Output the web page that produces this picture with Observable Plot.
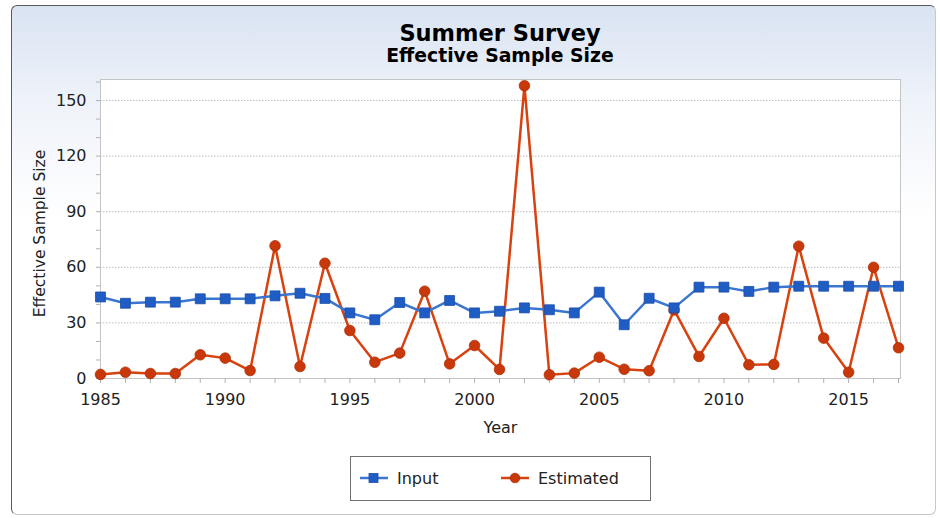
<!DOCTYPE html>
<html>
<head>
<meta charset="utf-8">
<script src="https://cdn.jsdelivr.net/npm/d3@7"></script>
<script src="https://cdn.jsdelivr.net/npm/@observablehq/plot@0.6"></script>
<style>
  html, body { margin: 0; padding: 0; background: #ffffff; }
  #chart { position: relative; width: 940px; height: 518px; overflow: hidden; font-family: "DejaVu Sans", sans-serif; }
  #bg { position: absolute; left: 11px; top: 5px; width: 923px; height: 508px;
        border-top: 1px solid #5a5a5a; border-left: 1px solid #5a5a5a;
        border-right: 1px solid #c8c8c8; border-bottom: 1px solid #c8c8c8;
        border-radius: 6px;
        background: linear-gradient(to bottom, #d9e3f2 0%, #eef2f9 18%, #ffffff 42%, #ffffff 100%); }
  .t { position: absolute; left: 300px; width: 400px; text-align: center; color: #000; font-weight: bold; line-height: 1.164; white-space: nowrap; }
  #title { top: 19.8px; font-size: 22.5px; }
  #subtitle { top: 45.3px; font-size: 18.8px; }
  #plotwrap { position: absolute; left: 0; top: 70px; }
  #legend { position: absolute; left: 350px; top: 456px; width: 299px; height: 43px; border: 1px solid #707070; background: #fff; }
  .li { position: absolute; top: 13px; font-size: 16px; line-height: 1.164; color: #222; white-space: nowrap; }
  .li svg { position: absolute; left: 0; top: 0; }
</style>
</head>
<body>
<div id="chart">
  <div id="bg"></div>
  <div id="title" class="t">Summer Survey</div>
  <div id="subtitle" class="t">Effective Sample Size</div>
  <div id="plotwrap"></div>
  <div id="legend"></div>
</div>
<script>
const years = [1985, 1986, 1987, 1988, 1989, 1990, 1991, 1992, 1993, 1994, 1995, 1996, 1997, 1998, 1999, 2000,
               2001, 2002, 2003, 2004, 2005, 2006, 2007, 2008, 2009, 2010, 2011, 2012, 2013, 2014, 2015, 2016, 2017];
const inputValues = [44, 40.6, 41.2, 41.2, 43, 43, 43, 44.6, 46, 43.2, 35.4, 31.7, 41, 35.4, 42.1, 35.4,
                     36.3, 38.1, 37.1, 35.4, 46.6, 29, 43.3, 38.1, 49.3, 49.3, 47, 49.3, 49.8, 49.8, 49.8, 49.8, 49.8];
const estimatedValues = [2.2, 3.4, 2.7, 2.7, 12.8, 11, 4.3, 71.6, 6.5, 62.2, 25.9, 8.8, 13.7, 47.1, 7.9, 17.8,
                         4.9, 158, 2, 2.9, 11.5, 5, 4.2, 37, 11.9, 32.5, 7.4, 7.6, 71.4, 21.8, 3.4, 60, 16.6];
const seriesNames = ["Input", "Estimated"];
const seriesColors = ["#3a76d0", "#d8420e"];
const markerColors = ["#1f5cc4", "#c8380a"];
const yMajorTicks = [0, 30, 60, 90, 120, 150];
const yMinorTicks = [0, 10, 20, 30, 40, 50, 60, 70, 80, 90, 100, 110, 120, 130, 140, 150, 160];
const xMajorTicks = [1985, 1990, 1995, 2000, 2005, 2010, 2015];
const xTitle = "Year";
const yTitle = "Effective Sample Size";

const rows = years.map((y, i) => ({year: y, input: inputValues[i], estimated: estimatedValues[i]}));

const chart = Plot.plot({
  width: 940,
  height: 370,
  marginLeft: 100,
  marginRight: 40,
  marginTop: 9,
  marginBottom: 62,
  insetTop: 2.5,
  insetRight: 2,
  x: {domain: [1985, 2017]},
  y: {domain: [0, 160]},
  style: {fontFamily: "DejaVu Sans, sans-serif", fontSize: "16px", color: "#222", background: "transparent", overflow: "visible"},
  marks: [
    Plot.frame({fill: "white", stroke: "#c4c4c4"}),
    Plot.gridY(yMajorTicks.filter(d => d > 0), {stroke: "#bdbdbd", strokeOpacity: 1, strokeDasharray: "1.5,1.5"}),
    Plot.axisY(yMinorTicks, {tickSize: 4, tickFormat: () => "", label: null, stroke: "#b0b0b0"}),
    Plot.axisY(yMajorTicks, {tickSize: 0, tickPadding: 14, tickFormat: d => String(d), label: null, fill: "#222"}),
    Plot.axisX(years, {tickSize: 5, tickFormat: () => "", label: null, stroke: "#b0b0b0"}),
    Plot.axisX(xMajorTicks, {tickSize: 0, tickPadding: 15, tickFormat: d => String(d), label: null, fill: "#222"}),
    Plot.text([yTitle], {frameAnchor: "left", textAnchor: "middle", dx: -60, dy: 4.5, rotate: -90, fontSize: 15.5, fill: "#222"}),
    Plot.text([xTitle], {frameAnchor: "bottom", dy: 54, fontSize: 16, fill: "#222"}),
    Plot.line(rows, {x: "year", y: "estimated", stroke: seriesColors[1], strokeWidth: 2.5}),
    Plot.dot(rows, {x: "year", y: "estimated", r: 5.3, fill: markerColors[1], stroke: "#b03008", strokeWidth: 0.8}),
    Plot.line(rows, {x: "year", y: "input", stroke: seriesColors[0], strokeWidth: 2.5}),
    Plot.dot(rows, {x: "year", y: "input", symbol: "square", r: 5.6, fill: markerColors[0], stroke: "#1a4ea8", strokeWidth: 0.8})
  ]
});
document.getElementById("plotwrap").appendChild(chart);

// legend
const legend = document.getElementById("legend");
const legendPos = [{icon: 9, text: 46}, {icon: 150, text: 187}];
seriesNames.forEach((name, i) => {
  const item = document.createElement("div");
  item.className = "li";
  item.style.left = legendPos[i].icon + "px";
  item.style.width = "130px";
  item.style.height = "20px";
  const svg = d3.create("svg").attr("width", 30).attr("height", 20);
  svg.append("line").attr("x1", 0).attr("x2", 28).attr("y1", 8).attr("y2", 8)
     .attr("stroke", seriesColors[i]).attr("stroke-width", 2.5);
  if (i === 0) {
    svg.append("rect").attr("x", 9).attr("y", 3.5).attr("width", 9).attr("height", 9)
       .attr("fill", markerColors[i]).attr("stroke", "#1a4ea8").attr("stroke-width", 0.8);
  } else {
    svg.append("circle").attr("cx", 14).attr("cy", 8).attr("r", 4.8)
       .attr("fill", markerColors[i]).attr("stroke", "#b03008").attr("stroke-width", 0.8);
  }
  item.appendChild(svg.node());
  const span = document.createElement("span");
  span.textContent = name;
  span.style.position = "absolute";
  span.style.left = (legendPos[i].text - legendPos[i].icon) + "px";
  span.style.top = "0px";
  item.appendChild(span);
  legend.appendChild(item);
});
</script>
</body>
</html>
